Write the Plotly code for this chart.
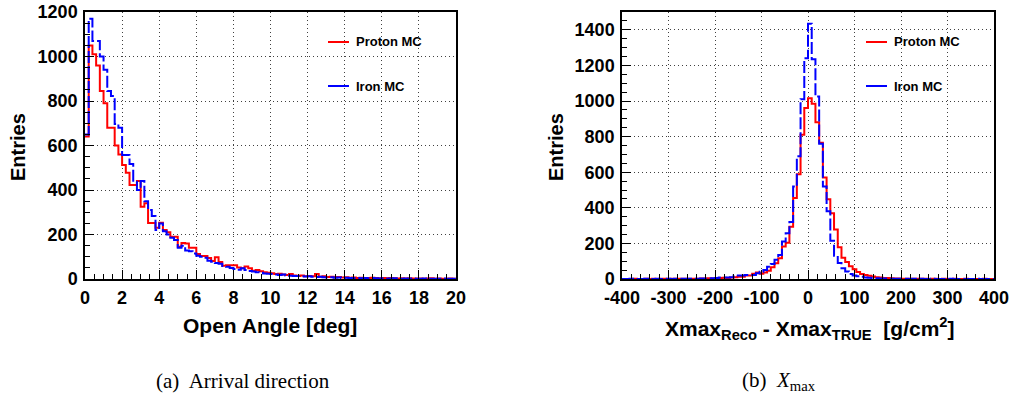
import numpy as np
import plotly.graph_objects as go

# ---------------- data ----------------
# Left panel: open angle histogram, 100 bins of 0.2 deg from 0 to 20
angle_lo, angle_width = 0.0, 0.2
angle_proton = [640, 1050, 1010, 960, 845, 790, 680, 680, 600, 560,
                512, 478, 422, 422, 440, 325, 341, 252, 252, 230,
                253, 220, 210, 190, 190, 145, 162, 160, 140, 140,
                112, 103, 103, 94, 81, 98, 76, 60, 62, 62,
                62, 52, 48, 56, 48, 37, 40, 35, 30, 28,
                26, 22, 24, 20, 18, 22, 16, 14, 16, 12,
                14, 12, 22, 10, 12, 9, 10, 8, 9, 7,
                8, 6, 7, 5, 6, 5, 4, 6, 4, 3,
                4, 3, 5, 3, 2, 3, 2, 3, 2, 2,
                2, 1, 2, 3, 1, 2, 1, 1, 2, 1]
angle_iron = [650, 1170, 1070, 1070, 1000, 940, 845, 822, 697, 680,
              557, 557, 517, 437, 400, 440, 350, 310, 283, 220,
              250, 215, 200, 185, 175, 140, 150, 128, 125, 115,
              105, 100, 95, 82, 78, 72, 68, 58, 55, 50,
              45, 42, 48, 40, 36, 34, 30, 28, 25, 24,
              22, 20, 18, 20, 16, 15, 14, 13, 12, 11,
              12, 10, 9, 10, 8, 7, 8, 6, 7, 5,
              6, 5, 4, 5, 3, 4, 3, 4, 3, 2,
              3, 2, 2, 3, 2, 1, 2, 1, 2, 1,
              1, 2, 1, 1, 1, 1, 2, 1, 1, 1]

# Right panel: Xmax residual histogram, 100 bins of 8 g/cm2 from -400 to 400
xmax_lo, xmax_width = -400.0, 8.0
xmax_proton = [0, 0, 0, 1, 0, 0, 1, 0, 1, 0,
               1, 1, 0, 1, 1, 2, 1, 1, 2, 2,
               2, 3, 3, 4, 3, 5, 6, 7, 6, 8,
               10, 12, 12, 19, 19, 30, 36, 30, 36, 47,
               66, 88, 116, 182, 204, 294, 455, 588, 810, 960,
               1016, 984, 881, 766, 570, 448, 370, 278, 178, 120,
               95, 72, 55, 40, 28, 22, 18, 14, 10, 8,
               6, 5, 4, 3, 3, 2, 2, 1, 2, 1,
               1, 1, 0, 1, 1, 0, 1, 0, 0, 1,
               0, 0, 1, 0, 0, 0, 0, 1, 0, 0]
xmax_iron = [0, 0, 1, 0, 0, 0, 1, 0, 0, 1,
             0, 1, 1, 0, 1, 1, 1, 2, 1, 2,
             2, 3, 3, 3, 4, 6, 8, 8, 9, 10,
             19, 19, 19, 22, 22, 22, 32, 41, 51, 69,
             84, 108, 135, 210, 257, 320, 519, 690, 1010, 1240,
             1434, 1235, 1025, 760, 520, 380, 215, 130, 90, 60,
             42, 28, 20, 15, 12, 9, 7, 5, 4, 3,
             3, 2, 2, 1, 1, 1, 1, 0, 1, 0,
             1, 0, 0, 1, 0, 0, 0, 0, 1, 0,
             0, 0, 0, 0, 0, 1, 0, 0, 0, 0]

assert len(angle_proton) == len(angle_iron) == 100
assert len(xmax_proton) == len(xmax_iron) == 100

angle_ticks = [0, 2, 4, 6, 8, 10, 12, 14, 16, 18, 20]
xmax_ticks = [-400, -300, -200, -100, 0, 100, 200, 300, 400]
xmax_tick_labels = ["-400", "-300", "-200", "-100", "0", "100", "200", "300", "400"]

series_names = ["Proton MC", "Iron MC"]
series_colors = ["#ff0000", "#0000ff"]

# ---------------- helpers ----------------
W, H = 1012, 397
def px(x):
    return x / W
def py(y):
    return 1 - y / H

def steps(lo, width, vals):
    n = len(vals)
    edges = lo + width * np.arange(n + 1)
    return edges, list(vals) + [vals[-1]]

fig = go.Figure()

panels = [
    (angle_lo, angle_width, [angle_proton, angle_iron], "x", "y"),
    (xmax_lo, xmax_width, [xmax_proton, xmax_iron], "x2", "y2"),
]
for lo, wd, vals_list, xa, ya in panels:
    for name, color, vals in zip(series_names, series_colors, vals_list):
        ex, ey = steps(lo, wd, vals)
        fig.add_trace(go.Scatter(
            x=ex, y=ey, mode="lines", name=name, showlegend=False,
            line=dict(color=color, width=2, shape="hv",
                      dash=("12px,3px" if color == "#0000ff" else "solid")),
            xaxis=xa, yaxis=ya, hoverinfo="skip"))

tickfont = dict(family="Liberation Sans", size=18, color="black", weight="bold")
common_axis = dict(showline=True, linecolor="black", linewidth=1.5, mirror=True,
                   showgrid=True, gridcolor="rgba(0,0,0,0.75)", gridwidth=1,
                   griddash="1px,3px", ticks="inside", ticklen=9, tickwidth=1,
                   tickcolor="black", tickfont=tickfont, zeroline=False,
                   automargin=False)

ydom = [py(279), py(12)]
fig.update_layout(
    width=W, height=H, margin=dict(l=0, r=0, t=0, b=0, autoexpand=False),
    paper_bgcolor="white", plot_bgcolor="white", showlegend=False,
    xaxis=dict(domain=[px(85), px(456)], range=[0, 20],
               tickmode="array", tickvals=angle_ticks,
               minor=dict(dtick=0.5, ticks="inside", ticklen=5, tickcolor="black", showgrid=False),
               anchor="y", ticklabelstandoff=2, **common_axis),
    yaxis=dict(domain=ydom, range=[0, 1200], dtick=200, tick0=0,
               minor=dict(dtick=50, ticks="inside", ticklen=5, tickcolor="black", showgrid=False),
               anchor="x", ticklabelstandoff=2, **common_axis),
    xaxis2=dict(domain=[px(622), px(994)], range=[-400, 400],
                tickmode="array", tickvals=xmax_ticks, ticktext=xmax_tick_labels,
                minor=dict(dtick=20, ticks="inside", ticklen=5, tickcolor="black", showgrid=False),
                anchor="y2", ticklabelstandoff=2, **common_axis),
    yaxis2=dict(domain=ydom, range=[0, 1500], dtick=200, tick0=0,
                minor=dict(dtick=50, ticks="inside", ticklen=5, tickcolor="black", showgrid=False),
                anchor="x2", ticklabelstandoff=2, **common_axis),
)

shapes = []
annotations = []
bold = lambda s: dict(family="Liberation Sans", size=s, color="black", weight="bold")

# legends (custom, ROOT style)
for x0 in (326, 864):
    for yc, name, color in ((42, series_names[0], series_colors[0]),
                            (86, series_names[1], series_colors[1])):
        shapes.append(dict(type="rect", xref="paper", yref="paper",
                           x0=px(x0 - 1), x1=px(x0 + 96), y0=py(yc + 10), y1=py(yc - 10),
                           fillcolor="white", line=dict(width=0), layer="between"))
        shapes.append(dict(type="line", xref="paper", yref="paper",
                           x0=px(x0 + 2), x1=px(x0 + 23), y0=py(yc), y1=py(yc),
                           line=dict(color=color, width=2)))
        annotations.append(dict(text=name, xref="paper", yref="paper",
                                x=px(x0 + 28), y=py(yc), xanchor="left", yanchor="middle",
                                showarrow=False, font=bold(13)))

# axis titles
annotations += [
    dict(text="Entries", xref="paper", yref="paper", x=px(18), y=py(147), textangle=-90,
         showarrow=False, font=bold(20), xanchor="center", yanchor="middle"),
    dict(text="Entries", xref="paper", yref="paper", x=px(556), y=py(147), textangle=-90,
         showarrow=False, font=bold(20), xanchor="center", yanchor="middle"),
    dict(text="Open Angle [deg]", xref="paper", yref="paper", x=px(270), y=py(325),
         showarrow=False, font=bold(21), xanchor="center", yanchor="middle"),
    dict(text="Xmax<sub>Reco</sub> - Xmax<sub>TRUE</sub>  [g/cm<sup>2</sup>]",
         xref="paper", yref="paper", x=px(810), y=py(328),
         showarrow=False, font=bold(21), xanchor="center", yanchor="middle"),
    dict(text="(a)  Arrival direction", xref="paper", yref="paper", x=px(243), y=py(381),
         showarrow=False, font=dict(family="Liberation Serif", size=21, color="black"),
         xanchor="center", yanchor="middle"),
    dict(text="(b)  <i>X</i><sub>max</sub>", xref="paper", yref="paper", x=px(779), y=py(381),
         showarrow=False, font=dict(family="Liberation Serif", size=21, color="black"),
         xanchor="center", yanchor="middle"),
]

fig.update_layout(shapes=shapes, annotations=annotations)
fig.write_html("out.html")
